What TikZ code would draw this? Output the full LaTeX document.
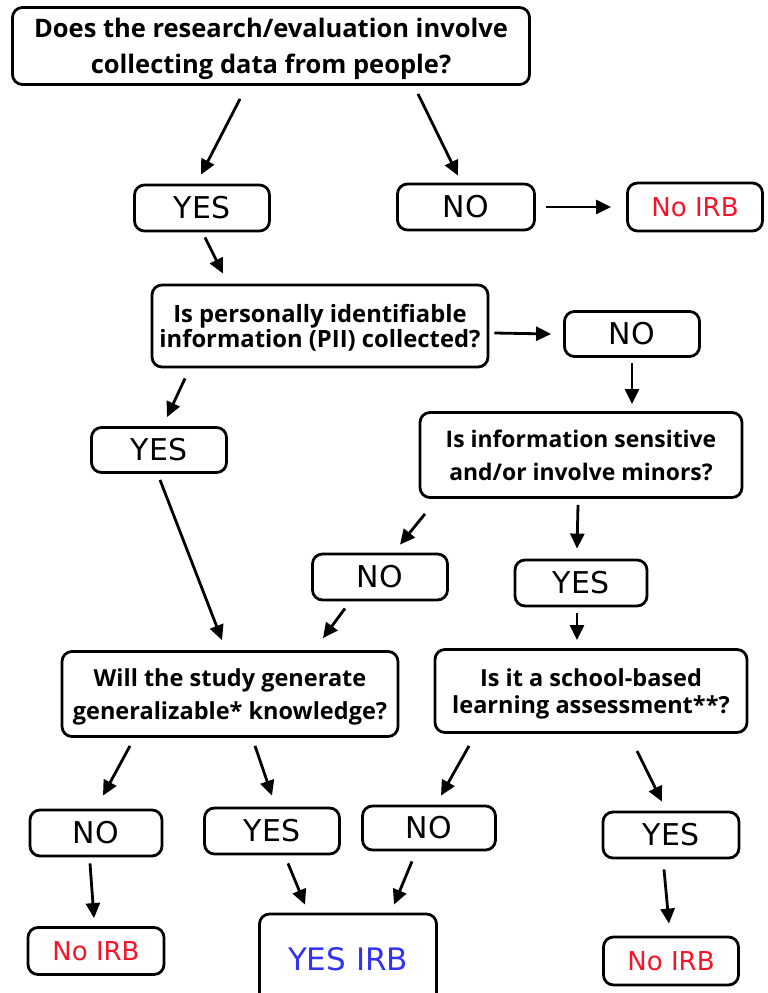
\documentclass[tikz,border=0pt]{standalone}
\usepackage{fontspec}
\setmainfont{Open Sans}
\newfontfamily\ansfont{DejaVu Sans}
\usetikzlibrary{arrows.meta, positioning}

\definecolor{irbred}{RGB}{245,20,40}
\definecolor{irbblue}{RGB}{50,50,245}

\tikzset{
  box/.style={draw, line width=2.8pt, rounded corners=10pt, align=center, inner sep=0pt},
  ques/.style={box, text depth=0pt, font=\bfseries\fontsize{23.5}{33}\selectfont},
  ans/.style={box, minimum width=135pt, minimum height=46pt, font=\ansfont\fontsize{30}{32}\selectfont},
  noirb/.style={ans, minimum height=48pt, text=irbred, font=\ansfont\fontsize{26}{28}\selectfont},
  arr/.style={line width=2.8pt, -{Triangle[length=15pt,width=14pt]}}
}

\begin{document}
\begin{tikzpicture}[x=1pt, y=-1pt, on grid]
  \useasboundingbox (0,0) rectangle (768,993);
  \node[ques, minimum width=517pt, minimum height=77pt, font=\bfseries\fontsize{25.5}{36}\selectfont] (q1) at (271,46)
    {Does the research/evaluation involve\\collecting data from people?};
  \node[ans] (yes1) [below left=162pt and 69pt of q1] {YES};
  \node[ans, minimum width=137pt] (no1) [below right=161pt and 195pt of q1] {NO};
  \node[noirb] (noirb1) [right=229pt of no1] {No IRB};
  \node[ques, minimum width=336pt, minimum height=82pt, font=\bfseries\fontsize{23.8}{25}\selectfont] (q2) [below right=118pt and 118pt of yes1]
    {Is personally identifiable\\information (PII) collected?};
  \node[ans, minimum height=45pt] (no2) [below right=8pt and 312pt of q2] {NO};
  \node[ans, minimum height=45pt] (yes2) [below left=124pt and 161pt of q2] {YES};
  \node[ques, minimum width=322pt, minimum height=85pt, font=\bfseries\fontsize{22.9}{33}\selectfont] (q3) [below left=121pt and 51pt of no2]
    {Is information sensitive\\and/or involve minors?};
  \node[ans] (no3) [below left=122pt and 201pt of q3] {NO};
  \node[ans, minimum width=132pt] (yes3) [below=128pt of q3] {YES};
  \node[ques, minimum width=336pt, minimum height=85pt] (q4) [below left=117pt and 150pt of no3]
    {Will the study generate\\generalizable* knowledge?};
  \node[ques, minimum width=312pt, minimum height=83pt, font=\bfseries\fontsize{23.5}{27}\selectfont] (q5) [below right=108pt and 10pt of yes3]
    {Is it a school-based\\learning assessment**?};
  \node[ans, minimum width=132pt] (no4) [below left=139pt and 134pt of q4] {NO};
  \node[ans] (yes4) [below right=137pt and 42pt of q4] {YES};
  \node[ans, minimum width=133pt, minimum height=44pt] (no5) [below left=137pt and 162pt of q5] {NO};
  \node[ans, minimum width=136pt] (yes5) [below right=144pt and 80pt of q5] {YES};
  \node[noirb, minimum width=136pt, minimum height=47pt] (noirb2) [below=118pt of no4] {No IRB};
  \node[ans, minimum width=177pt, minimum height=90pt, text=irbblue, text depth=0pt, font=\ansfont\fontsize{31}{32}\selectfont] (yesirb) [below right=128pt and 76pt of yes4] {YES IRB};
  \node[noirb] (noirb3) [below=126pt of yes5] {No IRB};

  \draw[arr] ([xshift=-31pt, yshift=-13pt]q1.south) -- ([xshift=-1pt, yshift=9pt]yes1.north);
  \draw[arr] ([xshift=147pt, yshift=-8pt]q1.south) -- ([xshift=-8pt, yshift=7pt]no1.north);
  \draw[arr] ([xshift=10pt]no1.east) -- ([xshift=-15pt]noirb1.west);
  \draw[arr] ([xshift=3pt, yshift=-5pt]yes1.south) -- ([xshift=-97pt, yshift=10pt]q2.north);
  \draw[arr] ([xshift=5pt, yshift=-7pt]q2.east) -- ([xshift=-12pt]no2.west);
  \draw[arr] ([xshift=-135pt, yshift=-10pt]q2.south) -- ([xshift=8pt, yshift=9pt]yes2.north);
  \draw[arr] ([yshift=-5pt]no2.south) -- ([xshift=51pt, yshift=7pt]q3.north);
  \draw[arr] ([xshift=1pt, yshift=-6pt]yes2.south) -- ([xshift=-8pt, yshift=10pt]q4.north);
  \draw[arr] ([xshift=-156pt, yshift=-15pt]q3.south) -- ([xshift=20pt, yshift=8pt]no3.north);
  \draw[arr] ([xshift=-3pt, yshift=-6pt]q3.south) -- ([xshift=-4pt, yshift=10pt]yes3.north);
  \draw[arr] ([xshift=-35pt, yshift=-7pt]no3.south) -- ([xshift=93pt, yshift=12pt]q4.north);
  \draw[arr] ([xshift=-4pt, yshift=-6pt]yes3.south) -- ([xshift=-14pt, yshift=8pt]q5.north);
  \draw[arr] ([xshift=-100pt, yshift=-8pt]q4.south) -- ([xshift=7pt, yshift=13pt]no4.north);
  \draw[arr] ([xshift=25pt, yshift=-8pt]q4.south) -- ([yshift=11pt]yes4.north);
  \draw[arr] ([xshift=-122pt, yshift=-12pt]q5.south) -- ([xshift=12pt, yshift=9pt]no5.north);
  \draw[arr] ([xshift=46pt, yshift=-17pt]q5.south) -- ([xshift=-9pt, yshift=9pt]yes5.north);
  \draw[arr] ([xshift=-6pt, yshift=-6pt]no4.south) -- ([xshift=-2pt, yshift=8pt]noirb2.north);
  \draw[arr] ([xshift=16pt, yshift=-8pt]yes4.south) -- ([xshift=-43pt, yshift=8pt]yesirb.north);
  \draw[arr] ([xshift=-17pt, yshift=-10pt]no5.south) -- ([xshift=46pt, yshift=8pt]yesirb.north);
  \draw[arr] ([xshift=-7pt, yshift=-10pt]yes5.south) -- ([xshift=-2pt, yshift=12pt]noirb3.north);
\end{tikzpicture}
\end{document}
